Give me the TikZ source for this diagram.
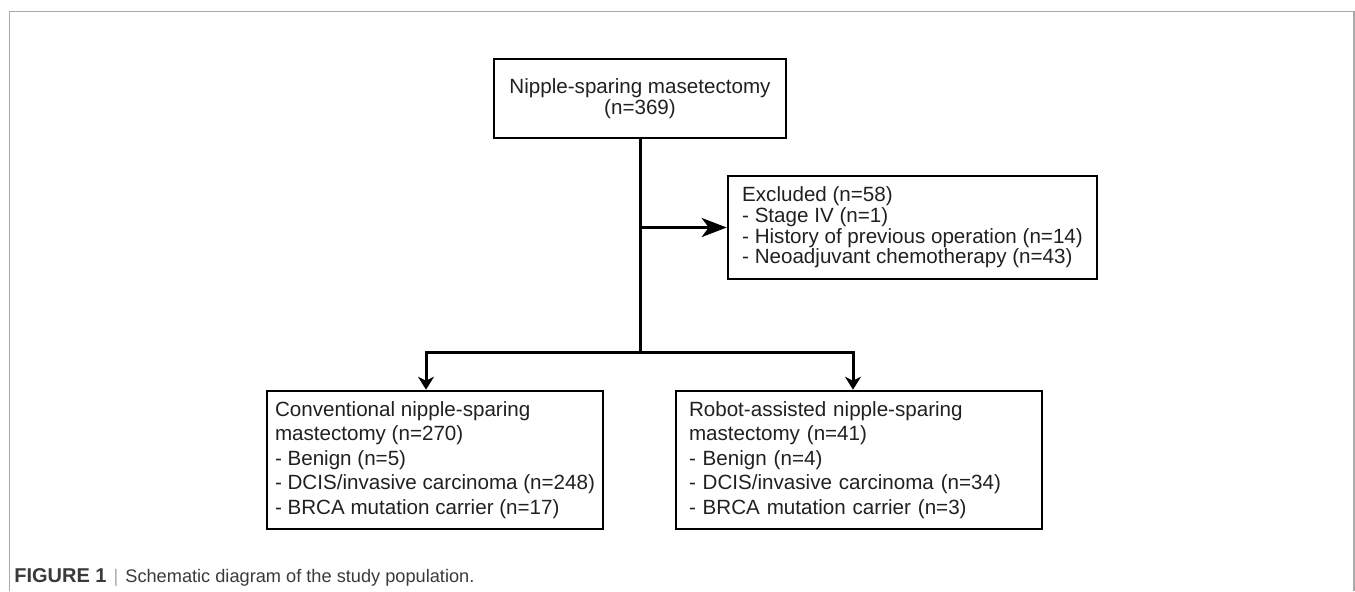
\documentclass[tikz,border=0pt]{standalone}
\usepackage{fontspec}
\setmainfont{Liberation Sans}
\usetikzlibrary{arrows.meta,positioning}
\definecolor{ink}{HTML}{231F20}
\definecolor{rule}{HTML}{A9A9A9}
\definecolor{captxt}{HTML}{3A3A3A}

\begin{document}
\begin{tikzpicture}[x=0.5pt,y=-0.5pt,
    box/.style={draw=black,line width=1.3pt,rectangle,text=ink,inner ysep=0pt},
    flow/.style={line width=1.5pt},
    bigarr/.style={flow,-{Stealth[length=12.5pt,width=9.5pt,inset=3.5pt]}},
    downarr/.style={flow,-{Stealth[length=6.5pt,width=8pt,inset=2pt]}}]
    \useasboundingbox (0,0) rectangle (1355,591);
    \draw[rule,line width=0.6pt] (9.5,591) |- (1354,11.5) -- (1354,591);
    % boxes
    \node[box,minimum width=146pt,minimum height=39.5pt,align=center,
      font=\fontsize{10.3}{10.8}\selectfont] (nsm) at (640,98.5)
      {Nipple-sparing masetectomy\\(n=369)};
    \node[box,minimum width=184.5pt,minimum height=51.5pt,align=left,
      font=\fontsize{10.3}{10.35}\selectfont] (excl) at (912.5,227.5)
      {Excluded (n=58)\\- Stage IV (n=1)\\- History of previous operation (n=14)\\- Neoadjuvant chemotherapy (n=43)};
    \node[box,minimum width=168pt,minimum height=69pt,align=left,
      font=\fontsize{10.3}{12.3}\selectfont] (conv) at (435,460)
      {Conventional nipple-sparing\\mastectomy (n=270)\\- Benign (n=5)\\- DCIS/invasive carcinoma (n=248)\\- BRCA mutation carrier (n=17)};
    \node[box,minimum width=183pt,minimum height=69pt,inner xsep=6.5pt,text width=170pt,align=left,
      font=\fontsize{10.3}{12.3}\selectfont] (robot) at (859,460)
      {Robot-assisted nipple-sparing\\mastectomy (n=41)\\- Benign (n=4)\\- DCIS/invasive carcinoma (n=34)\\- BRCA mutation carrier (n=3)};
    % connectors
    \coordinate (split) at (640,352);
    \draw[flow] (nsm.south) -- (split);
    \draw[bigarr] (nsm.south |- excl.west) -- (excl.west);
    \foreach \n/\dx in {conv/-4.5pt,robot/-3pt} {\draw[downarr] (split) -| ([xshift=\dx]\n.north);}
    % caption
    \node[anchor=west,inner sep=0pt,text=captxt,font=\fontsize{9.1}{11}\selectfont] (cap) at (14,577)
      {{\fontsize{10}{11}\selectfont\bfseries FIGURE 1}\hspace{3.5pt}{\color{rule}|}\hspace{3.5pt}Schematic diagram of the study population.};
\end{tikzpicture}
\end{document}
